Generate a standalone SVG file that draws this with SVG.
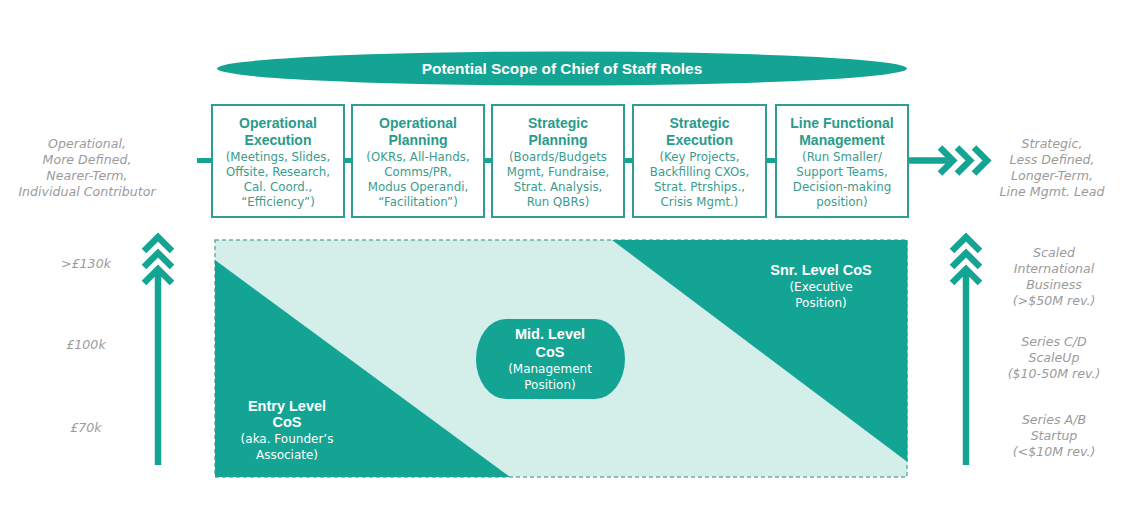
<svg xmlns="http://www.w3.org/2000/svg" width="1139" height="532" viewBox="0 0 1139 532">
<style>
.bg{fill:#ffffff}
.teal{fill:#14a494}
.light{fill:#d4eeea}
.box{fill:#ffffff;stroke:#2d9e8f;stroke-width:2}
.ttl{font-family:"Liberation Sans",Arial,sans-serif;font-weight:bold;font-size:14px;fill:#2a9a8b;text-anchor:middle}
.sub{font-family:"DejaVu Sans",Verdana,sans-serif;font-size:11.8px;fill:#3a9c8d;text-anchor:middle}
.grey{font-family:"DejaVu Sans",Verdana,sans-serif;font-style:italic;font-size:12.6px;fill:#9b9b9b;text-anchor:middle}
.wb{font-family:"Liberation Sans",Arial,sans-serif;font-weight:bold;font-size:14.5px;fill:#ffffff;text-anchor:middle}
.ws{font-family:"DejaVu Sans",Verdana,sans-serif;font-size:12px;fill:#ffffff;text-anchor:middle}
.conn{stroke:#14a494;stroke-width:5;fill:none}
.chev{stroke:#14a494;stroke-width:6.5;fill:none;stroke-linejoin:miter;stroke-miterlimit:10}
.dash{fill:none;stroke:#6fada3;stroke-width:1.5;stroke-dasharray:4 3}
</style>
<rect class="bg" x="0" y="0" width="1139" height="532"/>

<g id="title">
<ellipse class="teal" cx="562" cy="68.5" rx="345" ry="17"/>
<text x="562" y="74" style="font-family:'Liberation Sans',Arial,sans-serif;font-weight:bold;font-size:15.4px;fill:#ffffff;text-anchor:middle">Potential Scope of Chief of Staff Roles</text>
</g>

<g id="connectors">
<line class="conn" x1="197" y1="160.5" x2="212" y2="160.5"/>
<line class="conn" x1="344" y1="160.5" x2="352" y2="160.5"/>
<line class="conn" x1="484" y1="160.5" x2="492" y2="160.5"/>
<line class="conn" x1="624" y1="160.5" x2="633" y2="160.5"/>
<line class="conn" x1="766" y1="160.5" x2="776" y2="160.5"/>
<line class="chev" x1="908" y1="160.5" x2="948" y2="160.5"/>
<polyline class="chev" points="940,147.5 953,160.5 940,173.5"/>
<polyline class="chev" points="957,147.5 970,160.5 957,173.5"/>
<polyline class="chev" points="974,147.5 987,160.5 974,173.5"/>
</g>

<g id="box-operational-execution">
<rect class="box" x="212" y="105" width="132" height="112"/>
<text class="ttl" x="278" y="128">Operational</text>
<text class="ttl" x="278" y="145">Execution</text>
<text class="sub" x="278" y="161">(Meetings, Slides,</text>
<text class="sub" x="278" y="176">Offsite, Research,</text>
<text class="sub" x="278" y="191">Cal. Coord.,</text>
<text class="sub" x="278" y="206">“Efficiency”)</text>
</g>

<g id="box-operational-planning">
<rect class="box" x="352" y="105" width="132" height="112"/>
<text class="ttl" x="418" y="128">Operational</text>
<text class="ttl" x="418" y="145">Planning</text>
<text class="sub" x="418" y="161">(OKRs, All-Hands,</text>
<text class="sub" x="418" y="176">Comms/PR,</text>
<text class="sub" x="418" y="191">Modus Operandi,</text>
<text class="sub" x="418" y="206">“Facilitation”)</text>
</g>

<g id="box-strategic-planning">
<rect class="box" x="492" y="105" width="132" height="112"/>
<text class="ttl" x="558" y="128">Strategic</text>
<text class="ttl" x="558" y="145">Planning</text>
<text class="sub" x="558" y="161">(Boards/Budgets</text>
<text class="sub" x="558" y="176">Mgmt, Fundraise,</text>
<text class="sub" x="558" y="191">Strat. Analysis,</text>
<text class="sub" x="558" y="206">Run QBRs)</text>
</g>

<g id="box-strategic-execution">
<rect class="box" x="633" y="105" width="133" height="112"/>
<text class="ttl" x="699.5" y="128">Strategic</text>
<text class="ttl" x="699.5" y="145">Execution</text>
<text class="sub" x="699.5" y="161">(Key Projects,</text>
<text class="sub" x="699.5" y="176">Backfilling CXOs,</text>
<text class="sub" x="699.5" y="191">Strat. Ptrships.,</text>
<text class="sub" x="699.5" y="206">Crisis Mgmt.)</text>
</g>

<g id="box-line-functional-management">
<rect class="box" x="776" y="105" width="132" height="112"/>
<text class="ttl" x="842" y="128">Line Functional</text>
<text class="ttl" x="842" y="145">Management</text>
<text class="sub" x="842" y="161">(Run Smaller/</text>
<text class="sub" x="842" y="176">Support Teams,</text>
<text class="sub" x="842" y="191">Decision-making</text>
<text class="sub" x="842" y="206">position)</text>
</g>

<g id="label-left">
<text class="grey" x="87" y="147.5">Operational,</text>
<text class="grey" x="87" y="163.5">More Defined,</text>
<text class="grey" x="87" y="179.5">Nearer-Term,</text>
<text class="grey" x="87" y="195.5">Individual Contributor</text>
</g>

<g id="label-right">
<text class="grey" x="1052" y="147.5">Strategic,</text>
<text class="grey" x="1052" y="163.5">Less Defined,</text>
<text class="grey" x="1052" y="179.5">Longer-Term,</text>
<text class="grey" x="1052" y="195.5">Line Mgmt. Lead</text>
</g>

<g id="matrix">
<rect class="light" x="215" y="240" width="692" height="237"/>
<rect class="dash" x="215" y="240" width="692" height="237"/>
<polygon class="teal" points="215,260 510,477 215,477"/>
<polygon class="teal" points="612,240 907.5,240 907.5,462"/>
</g>

<g id="entry-level">
<text class="wb" x="287" y="411">Entry Level</text>
<text class="wb" x="287" y="427">CoS</text>
<text class="ws" x="287" y="443">(aka. Founder’s</text>
<text class="ws" x="287" y="459">Associate)</text>
</g>

<g id="mid-level">
<rect class="teal" x="476" y="319" width="149" height="80" rx="30" ry="40"/>
<text class="wb" x="550" y="339">Mid. Level</text>
<text class="wb" x="550" y="357">CoS</text>
<text class="ws" x="550" y="373">(Management</text>
<text class="ws" x="550" y="389">Position)</text>
</g>

<g id="snr-level">
<text class="wb" x="821" y="275">Snr. Level CoS</text>
<text class="ws" x="821" y="291">(Executive</text>
<text class="ws" x="821" y="307">Position)</text>
</g>

<g id="salary-axis">
<line class="chev" x1="158" y1="465" x2="158" y2="270"/>
<polyline class="chev" points="144,251 158,237 172,251"/>
<polyline class="chev" points="144,267 158,253 172,267"/>
<polyline class="chev" points="144,283 158,269 172,283"/>
<text class="grey" x="86" y="268">&gt;£130k</text>
<text class="grey" x="86" y="349">£100k</text>
<text class="grey" x="86" y="432">£70k</text>
</g>

<g id="company-axis">
<line class="chev" x1="966" y1="465" x2="966" y2="270"/>
<polyline class="chev" points="952,251 966,237 980,251"/>
<polyline class="chev" points="952,267 966,253 980,267"/>
<polyline class="chev" points="952,283 966,269 980,283"/>
<text class="grey" x="1054" y="257">Scaled</text>
<text class="grey" x="1054" y="273">International</text>
<text class="grey" x="1054" y="289">Business</text>
<text class="grey" x="1054" y="305">(&gt;$50M rev.)</text>
<text class="grey" x="1054" y="346">Series C/D</text>
<text class="grey" x="1054" y="362">ScaleUp</text>
<text class="grey" x="1054" y="378">($10-50M rev.)</text>
<text class="grey" x="1054" y="424">Series A/B</text>
<text class="grey" x="1054" y="440">Startup</text>
<text class="grey" x="1054" y="456">(&lt;$10M rev.)</text>
</g>
</svg>
